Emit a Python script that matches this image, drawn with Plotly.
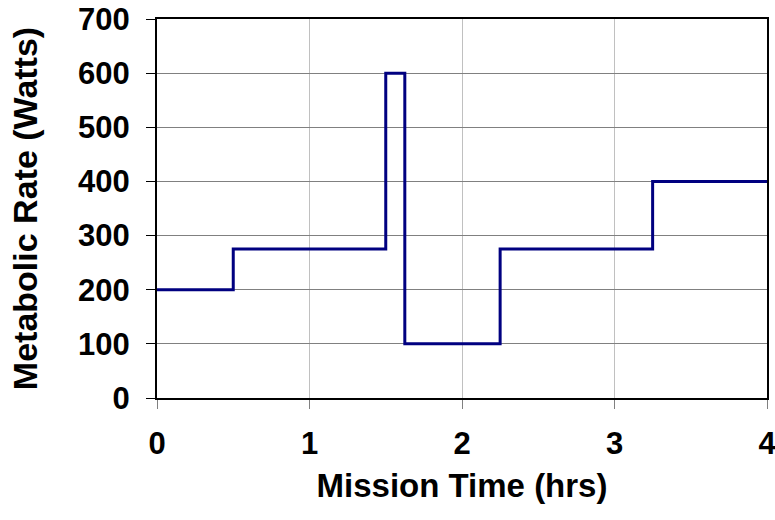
import plotly.graph_objects as go

time_hrs = [0, 0.5, 1.5, 1.625, 2.25, 3.25, 4]
metabolic_watts = [200, 275, 600, 100, 275, 400, 400]
x_ticks = [0, 1, 2, 3, 4]
y_ticks = [0, 100, 200, 300, 400, 500, 600, 700]

font_family = "Liberation Sans, Arial, sans-serif"

fig = go.Figure()
fig.add_trace(go.Scatter(
    x=time_hrs, y=metabolic_watts, mode="lines", line_shape="hv",
    line=dict(color="#000080", width=3), showlegend=False, hoverinfo="skip",
))

fig.update_layout(
    width=775, height=520,
    margin=dict(l=157, r=8, t=19, b=122, autoexpand=False),
    paper_bgcolor="white", plot_bgcolor="white",
    font=dict(family=font_family, color="black"),
    xaxis=dict(
        range=[0, 4], tickvals=x_ticks, ticktext=[f"<b>{v}</b>" for v in x_ticks],
        tickfont=dict(size=31), ticks="outside", ticklen=9, tickcolor="#808080",
        ticklabelstandoff=8, automargin=False, ticklabeloverflow="allow",
        showline=True, linecolor="black", linewidth=2, mirror=True,
        showgrid=True, gridcolor="#c0c0c0", gridwidth=1, zeroline=False,
        title=dict(text="<b>Mission Time (hrs)</b>", font=dict(size=33), standoff=14),
    ),
    yaxis=dict(
        range=[0, 700], tickvals=y_ticks, ticktext=[f"<b>{v}</b>" for v in y_ticks],
        tickfont=dict(size=31), ticks="outside", ticklen=9, tickcolor="black",
        ticklabelstandoff=10, automargin=False, ticklabeloverflow="allow",
        showline=True, linecolor="black", linewidth=2, mirror=True,
        showgrid=True, gridcolor="#808080", gridwidth=1, zeroline=False,
        title=dict(text="<b>Metabolic Rate (Watts)</b>", font=dict(size=34), standoff=30),
    ),
)

fig.write_html("out.html")
